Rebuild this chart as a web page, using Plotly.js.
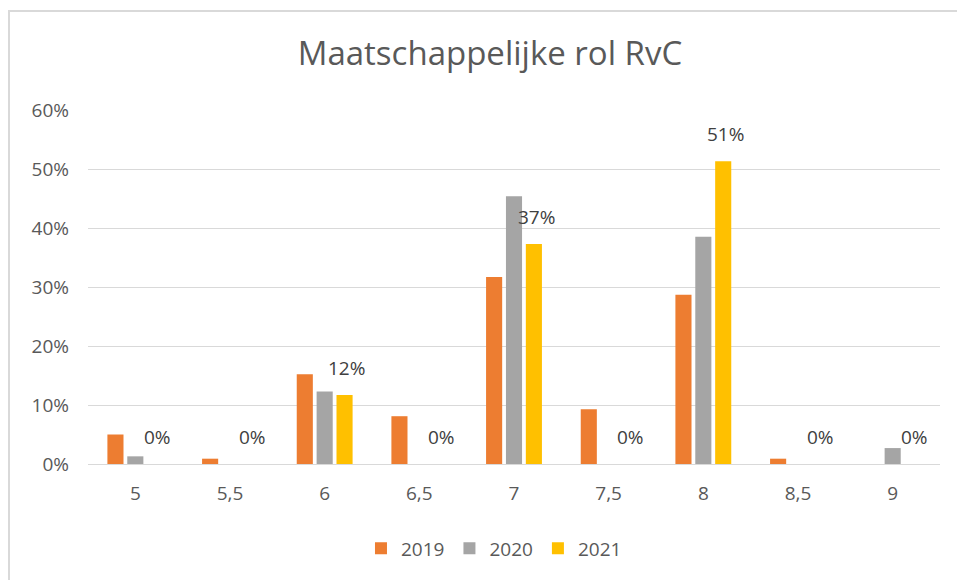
<!DOCTYPE html>
<html>
<head>
<meta charset="utf-8">
<script src="https://cdn.plot.ly/plotly-3.0.1.min.js"></script>
<style>
  html, body { margin: 0; padding: 0; background: #fff; overflow: hidden; }
  #chart { position: absolute; left: 0; top: 0; width: 957px; height: 580px; }
  #frame { position: absolute; left: 8px; top: 10px; width: 1000px; height: 700px;
           border-left: 2px solid #d9d9d9; border-top: 2px solid #d9d9d9; pointer-events: none; }
</style>
</head>
<body>
<div id="chart"></div>
<div id="frame"></div>
<script>
var categories = ["5", "5,5", "6", "6,5", "7", "7,5", "8", "8,5", "9"];
var values2019 = [0.050, 0.009, 0.152, 0.081, 0.317, 0.093, 0.287, 0.009, 0];
var values2020 = [0.013, 0, 0.123, 0, 0.454, 0, 0.385, 0, 0.027];
var values2021 = [0, 0, 0.117, 0, 0.373, 0, 0.513, 0, 0];

var fontFam = 'Open Sans, Liberation Sans, sans-serif';

var data = [{
    type: 'bar',
    name: '2019',
    x: categories,
    y: values2019,
    marker: { color: '#ed7d31' },
    hoverinfo: 'none'
}, {
    type: 'bar',
    name: '2020',
    x: categories,
    y: values2020,
    marker: { color: '#a5a5a5' },
    hoverinfo: 'none'
}, {
    type: 'bar',
    name: '2021',
    x: categories,
    y: values2021,
    marker: { color: '#ffc000' },
    hoverinfo: 'none'
}];

// data labels for the 2021 series, placed above its bars
// (category axis: annotation x is the category index)
var labels = [];
for (var i = 0; i < categories.length; i++) {
    labels.push({
        x: i,
        y: values2021[i],
        xref: 'x',
        yref: 'y',
        text: Math.round(values2021[i] * 100) + '%',
        showarrow: false,
        xanchor: 'center',
        yanchor: 'middle',
        xshift: 22,
        yshift: 27,
        font: { family: fontFam, size: 19, color: '#404040' }
    });
}

var layout = {
    width: 957,
    height: 580,
    margin: { l: 88, r: 17, t: 110, b: 116 },
    paper_bgcolor: '#ffffff',
    plot_bgcolor: '#ffffff',
    font: { family: fontFam, color: '#595959', size: 19 },
    title: {
        text: 'Maatschappelijke rol RvC',
        font: { family: fontFam, size: 33, color: '#595959' },
        x: 0.512,
        xanchor: 'center',
        y: 0.908,
        yanchor: 'middle'
    },
    barmode: 'group',
    bargap: 0.37,
    bargroupgap: 0.19,
    annotations: labels,
    xaxis: {
        type: 'category',
        showgrid: false,
        showline: true,
        linecolor: '#d9d9d9',
        linewidth: 1,
        ticks: '',
        ticklabelstandoff: 12,
        tickfont: { family: fontFam, size: 19, color: '#595959' }
    },
    yaxis: {
        range: [0, 0.6],
        dtick: 0.1,
        tickformat: '.0%',
        showgrid: true,
        gridcolor: '#d9d9d9',
        gridwidth: 1,
        zeroline: false,
        showline: false,
        ticks: '',
        ticklabelstandoff: 18,
        tickfont: { family: fontFam, size: 19, color: '#595959' }
    },
    showlegend: true,
    legend: {
        orientation: 'h',
        x: 0.4765,
        xanchor: 'center',
        y: -0.185,
        yanchor: 'top',
        font: { family: fontFam, size: 19, color: '#595959' },
        itemwidth: 30,
        traceorder: 'normal'
    }
};

Plotly.newPlot('chart', data, layout, { displayModeBar: false, staticPlot: true });
</script>
</body>
</html>
